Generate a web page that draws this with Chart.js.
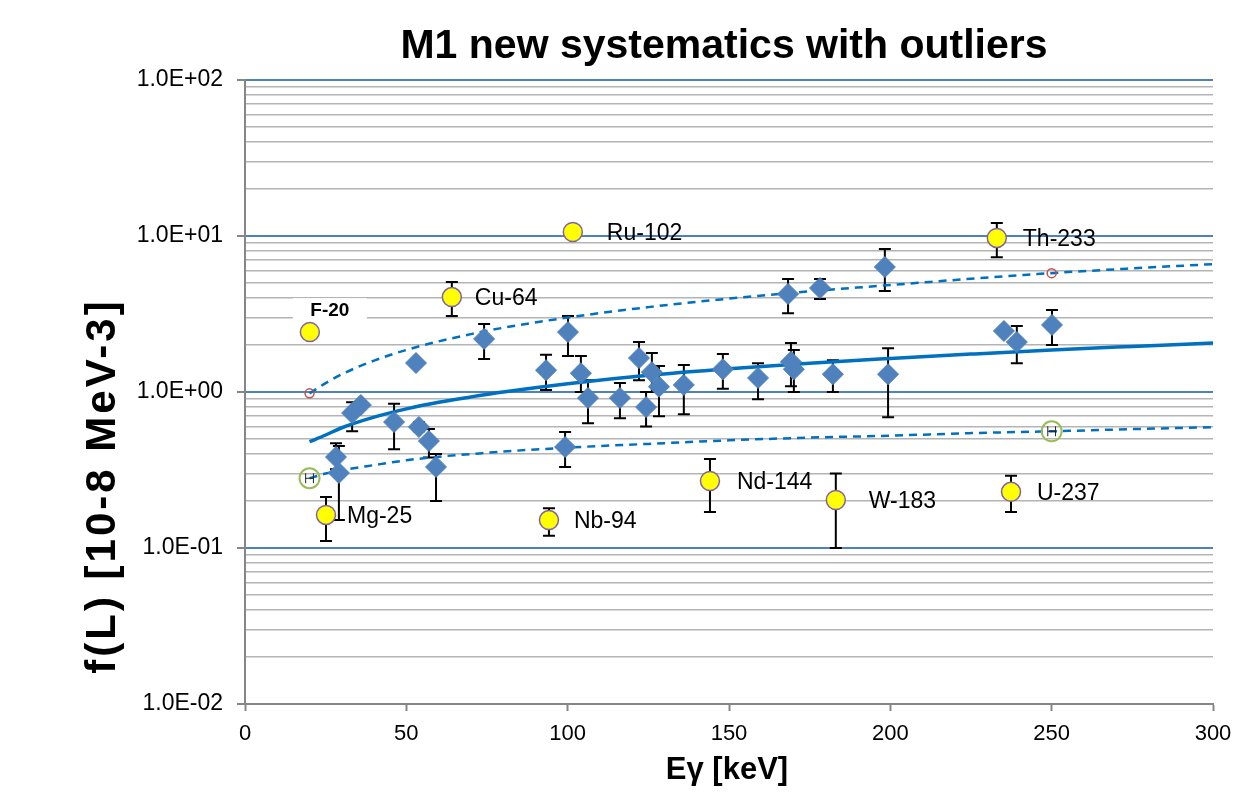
<!DOCTYPE html>
<html>
<head>
<meta charset="utf-8">
<script src="https://cdn.jsdelivr.net/npm/chart.js@4.4.1/dist/chart.umd.min.js"></script>
<style>
  html, body { margin: 0; padding: 0; background: #fff; }
</style>
</head>
<body>
<canvas id="myChart" width="1255" height="795"></canvas>
<script>
// titles
const chartTitle = "M1 new systematics with outliers";
const xTitle = "Eγ [keV]";
const yTitle = "f(L) [10-8 MeV-3]";

// y ticks (log, decades labelled)
const yMajorTicks = [0.01, 0.1, 1, 10, 100];
const yTickLabels = ["1.0E-02", "1.0E-01", "1.0E+00", "1.0E+01", "1.0E+02"];
const xTicks = [0, 50, 100, 150, 200, 250, 300];

// main data (blue diamonds) with error bar ends
const dataE  = [28.2, 29.1, 33.2, 35.9, 46.2, 53.0, 53.9, 57.0, 59.2, 74.1, 93.3, 99.2, 100.1, 104.1, 106.3, 116.2, 122.1, 124.3, 126.1, 128.3, 136.0, 148.1, 159.0, 168.3, 169.2, 170.1, 178.2, 182.2, 198.3, 199.3, 235.2, 239.2, 250.1];
const dataF  = [0.383, 0.303, 0.733, 0.825, 0.642, 1.534, 0.597, 0.485, 0.331, 2.19, 1.38, 0.444, 2.42, 1.32, 0.915, 0.915, 1.65, 0.80, 1.34, 1.08, 1.11, 1.40, 1.23, 4.25, 1.56, 1.40, 4.64, 1.30, 6.33, 1.30, 2.46, 2.09, 2.69];
const dataHi = [0.47, 0.45, 0.86, 0.87, 0.84, 1.60, 0.64, 0.58, 0.40, 2.73, 1.73, 0.555, 3.07, 1.70, 1.19, 1.14, 2.09, 1.0, 1.78, 1.47, 1.49, 1.75, 1.53, 5.3, 2.06, 1.86, 5.3, 1.60, 8.25, 1.91, null, 2.65, 3.36];
const dataLo = [0.32, 0.151, 0.56, 0.78, 0.43, 1.46, 0.56, 0.38, 0.20, 1.63, 1.03, 0.33, 1.70, 1.0, 0.63, 0.68, 1.19, 0.6, 1.0, 0.70, 0.72, 1.05, 0.90, 3.2, 1.09, 1.0, 3.95, 1.0, 4.44, 0.69, null, 1.53, 2.0];

// outliers (yellow circles)
const outName = ["F-20", "Mg-25", "Cu-64", "Nb-94", "Ru-102", "Nd-144", "W-183", "Th-233", "U-237"];
const outE    = [20.1, 25.1, 64.1, 94.2, 101.6, 144.1, 183.1, 233.0, 237.4];
const outF    = [2.42, 0.163, 4.06, 0.151, 10.6, 0.269, 0.203, 9.72, 0.229];
const outHi   = [null, 0.212, 5.07, 0.18, null, 0.372, 0.30, 12.1, 0.29];
const outLo   = [null, 0.111, 3.07, 0.12, null, 0.17, 0.10, 7.3, 0.17];

// systematics curves
const curveE   = [20, 25, 30, 40, 50, 60, 70, 80, 100, 125, 150, 175, 200, 225, 250, 275, 300];
const sysMid   = [0.48, 0.53, 0.59, 0.69, 0.78, 0.86, 0.93, 1.0, 1.13, 1.28, 1.41, 1.53, 1.64, 1.75, 1.86, 1.96, 2.06];
const sysUpper = [0.98, 1.14, 1.30, 1.59, 1.86, 2.11, 2.35, 2.58, 3.0, 3.5, 3.97, 4.42, 4.85, 5.32, 5.78, 6.2, 6.6];
const sysLower = [0.28, 0.30, 0.315, 0.34, 0.365, 0.385, 0.40, 0.415, 0.44, 0.465, 0.49, 0.51, 0.525, 0.545, 0.56, 0.578, 0.595];

// marker points on the bands
const markE     = [20, 250];
const markUpper = [0.98, 5.78];
const markLower = [0.28, 0.56];
const markLowerXErr = [1.2, 1.2];

// label offsets in px (layout only)
const outLabelDx = [0, 21, 23, 25, 34, 27, 33, 26, 26];

const FONT = '"Liberation Sans", Arial, sans-serif';
const BLUE = "#0070c0";

function pts(xs, ys) {
  return xs.map((x, i) => ({ x: x, y: ys[i] }));
}

function isMajor(v) {
  const l = Math.log10(v);
  return Math.abs(l - Math.round(l)) < 1e-6;
}

function yTickValues() {
  const vals = [];
  for (let d = 0; d < yMajorTicks.length; d++) {
    const base = yMajorTicks[d];
    vals.push(base);
    if (d < yMajorTicks.length - 1) {
      for (let k = 2; k <= 9; k++) vals.push(+(base * k).toPrecision(6));
    }
  }
  return vals;
}

const errorBars = {
  id: "errorBars",
  beforeDatasetsDraw(chart) {
    const ctx = chart.ctx;
    const xs = chart.scales.x, ys = chart.scales.y;
    ctx.save();
    ctx.strokeStyle = "#000";
    ctx.lineWidth = 2;
    chart.data.datasets.forEach((ds) => {
      if (!ds.errHi) return;
      ds.data.forEach((p, i) => {
        const hi = ds.errHi[i], lo = ds.errLo[i];
        if (hi == null || lo == null) return;
        const px = xs.getPixelForValue(p.x);
        const yh = ys.getPixelForValue(hi);
        const yl = ys.getPixelForValue(lo);
        ctx.beginPath();
        ctx.moveTo(px, yh); ctx.lineTo(px, yl);
        ctx.moveTo(px - 6, yh); ctx.lineTo(px + 6, yh);
        ctx.moveTo(px - 6, yl); ctx.lineTo(px + 6, yl);
        ctx.stroke();
      });
    });
    ctx.restore();
  },
  afterDatasetsDraw(chart) {
    const ctx = chart.ctx;
    const xs = chart.scales.x, ys = chart.scales.y;
    ctx.save();
    // small horizontal error bars inside green markers
    chart.data.datasets.forEach((ds) => {
      if (!ds.xErr) return;
      ctx.strokeStyle = "#222";
      ctx.lineWidth = 1;
      ds.data.forEach((p, i) => {
        const x1 = xs.getPixelForValue(p.x - ds.xErr[i]);
        const x2 = xs.getPixelForValue(p.x + ds.xErr[i]);
        const py = ys.getPixelForValue(p.y);
        ctx.beginPath();
        ctx.moveTo(x1, py); ctx.lineTo(x2, py);
        ctx.moveTo(x1, py - 5); ctx.lineTo(x1, py + 5);
        ctx.moveTo(x2, py - 5); ctx.lineTo(x2, py + 5);
        ctx.stroke();
      });
    });
    // outlier labels
    ctx.fillStyle = "#000";
    ctx.textBaseline = "middle";
    outName.forEach((name, i) => {
      const px = xs.getPixelForValue(outE[i]);
      const py = ys.getPixelForValue(outF[i]);
      if (i === 0) {
        ctx.fillStyle = "#fff";
        ctx.fillRect(px - 17, py - 34, 74, 22);
        ctx.fillStyle = "#000";
        ctx.font = "bold 19px " + FONT;
        ctx.textAlign = "center";
        ctx.fillText(name, px + 20, py - 21);
      } else {
        ctx.font = "23px " + FONT;
        ctx.textAlign = "left";
        ctx.fillText(name, px + outLabelDx[i], py + 2);
      }
    });
    ctx.restore();
  },
  afterDraw(chart) {
    const ctx = chart.ctx;
    const a = chart.chartArea;
    ctx.save();
    ctx.fillStyle = "#000";
    ctx.textAlign = "center";
    ctx.textBaseline = "middle";
    ctx.font = "bold 41px " + FONT;
    ctx.fillText(chartTitle, (a.left + a.right) / 2 - 5, a.top - 33);
    ctx.font = "bold 31px " + FONT;
    ctx.fillText(xTitle, (a.left + a.right) / 2 - 2, a.bottom + 66);
    ctx.translate(103, (a.top + a.bottom) / 2 + 94);
    ctx.rotate(-Math.PI / 2);
    ctx.font = "bold 42px " + FONT;
    ctx.letterSpacing = "3px";
    ctx.fillText(yTitle, 0, 0);
    ctx.restore();
  }
};

Chart.defaults.font.family = FONT;

const ctx = document.getElementById("myChart").getContext("2d");
const myChart = new Chart(ctx, {
  type: "scatter",
  data: {
    datasets: [
      {
        label: "outliers",
        data: pts(outE, outF),
        errHi: outHi,
        errLo: outLo,
        pointStyle: "circle",
        pointRadius: 9.5,
        backgroundColor: "#ffff00",
        borderColor: "#8064a2",
        borderWidth: 1.5,
        order: 0,
      },
      {
        label: "data",
        data: pts(dataE, dataF),
        errHi: dataHi,
        errLo: dataLo,
        pointStyle: "rectRot",
        pointRadius: 10.5,
        backgroundColor: "#4f81bd",
        borderColor: "#4f81bd",
        borderWidth: 1,
        order: 1,
      },
      {
        label: "upper marks",
        data: pts(markE, markUpper),
        pointStyle: "circle",
        pointRadius: 4.5,
        backgroundColor: "rgba(255,255,255,0)",
        borderColor: "#c0504d",
        borderWidth: 1.5,
        order: 2,
      },
      {
        label: "lower marks",
        data: pts(markE, markLower),
        xErr: markLowerXErr,
        pointStyle: "circle",
        pointRadius: 10,
        backgroundColor: "rgba(255,255,255,0)",
        borderColor: "#9bbb59",
        borderWidth: 2,
        order: 2,
      },
      {
        label: "systematics",
        data: pts(curveE, sysMid),
        showLine: true,
        pointRadius: 0,
        borderColor: BLUE,
        borderWidth: 3.5,
        cubicInterpolationMode: "monotone",
        order: 3,
      },
      {
        label: "upper",
        data: pts(curveE, sysUpper),
        showLine: true,
        pointRadius: 0,
        borderColor: BLUE,
        borderWidth: 2.5,
        borderDash: [8, 6],
        cubicInterpolationMode: "monotone",
        order: 3,
      },
      {
        label: "lower",
        data: pts(curveE, sysLower),
        showLine: true,
        pointRadius: 0,
        borderColor: BLUE,
        borderWidth: 2.5,
        borderDash: [8, 6],
        cubicInterpolationMode: "monotone",
        order: 3,
      },
    ],
  },
  options: {
    responsive: false,
    animation: false,
    events: [],
    layout: { padding: { top: 80, right: 42, bottom: 0, left: 0 } },
    plugins: {
      legend: { display: false },
      tooltip: { enabled: false },
      title: { display: false },
    },
    scales: {
      x: {
        type: "linear",
        min: 0,
        max: 300,
        afterBuildTicks: (scale) => {
          scale.ticks = xTicks.map((v) => ({ value: v }));
        },
        afterFit: (scale) => {
          scale.height = 91;
        },
        ticks: {
          color: "#000",
          font: { size: 22 },
          padding: 10,
        },
        grid: {
          drawOnChartArea: false,
          drawTicks: true,
          tickLength: 7,
          tickColor: "#868686",
          tickWidth: 2,
        },
        border: { color: "#868686", width: 2 },
      },
      y: {
        type: "logarithmic",
        min: 0.01,
        max: 100,
        afterBuildTicks: (scale) => {
          scale.ticks = yTickValues().map((v) => ({ value: v }));
        },
        afterFit: (scale) => {
          scale.width = 245;
        },
        ticks: {
          color: "#000",
          font: { size: 23 },
          padding: 14,
          autoSkip: false,
          callback: (value) => {
            const idx = yMajorTicks.findIndex((m) => Math.abs(m - value) / m < 1e-6);
            return idx >= 0 ? yTickLabels[idx] : "";
          },
        },
        grid: {
          color: (c) => (isMajor(c.tick.value) ? "#4f81bd" : "#b4b4b4"),
          lineWidth: (c) => (isMajor(c.tick.value) ? 2 : 1.6),
          tickLength: 8,
          tickColor: (c) => (isMajor(c.tick.value) ? "#868686" : "rgba(0,0,0,0)"),
          tickWidth: 2,
        },
        border: { color: "#868686", width: 2 },
      },
    },
  },
  plugins: [errorBars],
});
</script>
</body>
</html>
